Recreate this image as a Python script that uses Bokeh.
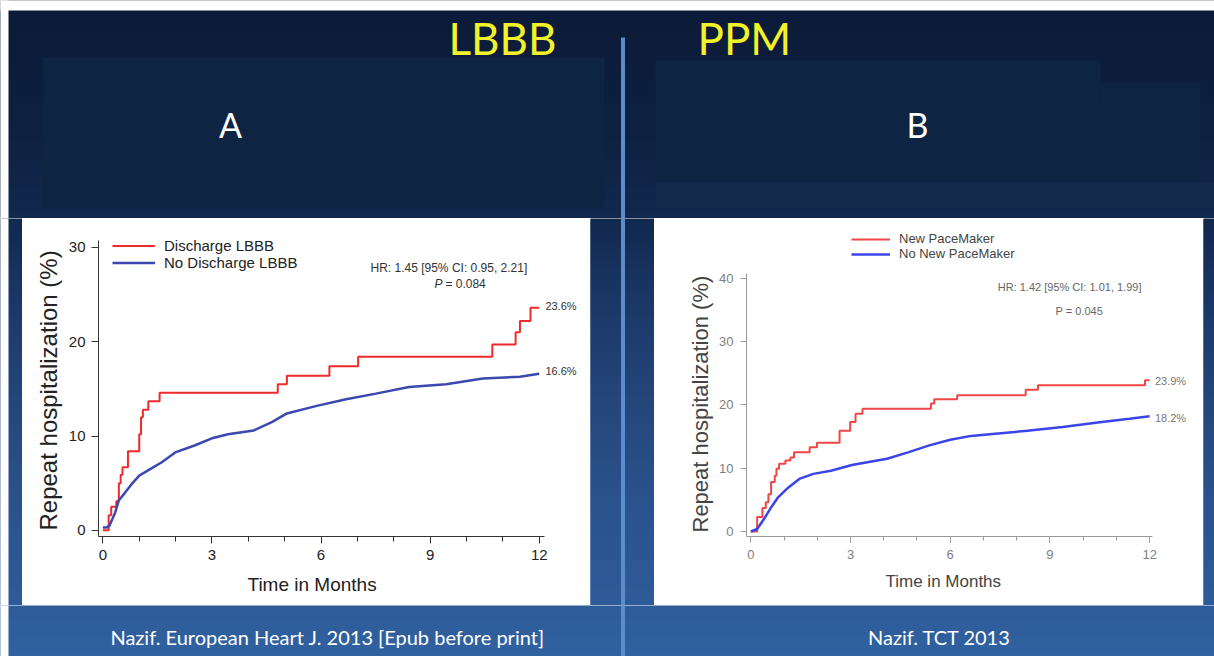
from bokeh.plotting import figure
from bokeh.models import Range1d, FixedTicker, Legend, LegendItem, Label, Title
from bokeh.layouts import row, column
from bokeh.embed import file_html
from bokeh.resources import INLINE
from bokeh.core.properties import value

# ---------------- data ----------------
slide_titles = ["LBBB", "PPM"]
panel_letters = ["A", "B"]
sources = ["Nazif. European Heart J. 2013 [Epub before print]", "Nazif. TCT 2013"]
y_title = "Repeat hospitalization (%)"
x_title = "Time in Months"

x_ticks = [0, 3, 6, 9, 12]
x_minor_ticks = list(range(13))
y_ticks_a = [0, 10, 20, 30]
y_ticks_b = [0, 10, 20, 30, 40]

series_a = ["Discharge LBBB", "No Discharge LBBB"]
lbbb_t = [0, 0.16, 0.23, 0.37, 0.44, 0.49, 0.54, 0.69, 1.0, 1.05, 1.10, 1.25, 1.56,
          4.81, 5.06, 6.23, 7.02, 10.71, 11.35, 11.47, 11.76, 12.0]
lbbb_v = [0, 1.6, 2.5, 3.1, 5.0, 5.9, 6.7, 8.4, 10.2, 12.0, 12.8, 13.7, 14.6,
          15.5, 16.4, 17.4, 18.4, 19.7, 21.0, 22.2, 23.6, 23.6]
nolbbb_t = [0, 0.10, 0.18, 0.34, 0.44, 0.59, 0.79, 1.0, 1.30, 1.61, 2.01, 2.52, 3.03,
            3.44, 4.15, 4.66, 5.06, 5.88, 6.69, 7.51, 8.42, 9.44, 10.45, 11.47, 12.0]
nolbbb_v = [0.3, 0.3, 0.5, 1.9, 3.2, 3.9, 4.9, 5.8, 6.5, 7.2, 8.3, 9.0, 9.8,
            10.2, 10.6, 11.5, 12.4, 13.2, 13.9, 14.5, 15.2, 15.5, 16.1, 16.3, 16.6]
end_labels_a = ["23.6%", "16.6%"]
stats_a = ["HR: 1.45 [95% CI: 0.95, 2.21]", "P", "= 0.084"]

series_b = ["New PaceMaker", "No New PaceMaker"]
ppm_t = [0, 0.19, 0.35, 0.45, 0.53, 0.61, 0.72, 0.77, 0.85, 1.04, 1.19, 1.30, 1.77, 1.99,
         2.67, 2.99, 3.15, 3.36, 5.42, 5.52, 6.21, 8.27, 8.64, 11.86, 12.0]
ppm_v = [0, 2.3, 3.7, 4.6, 5.9, 7.8, 8.8, 9.9, 10.7, 11.2, 11.7, 12.5, 13.3, 14.0,
         15.9, 17.3, 18.6, 19.4, 20.2, 20.9, 21.5, 22.4, 23.1, 23.9, 23.9]
noppm_t = [0, 0.19, 0.40, 0.61, 0.82, 1.14, 1.46, 1.88, 2.41, 3.04, 3.46, 4.10, 4.73,
           5.37, 6.0, 6.63, 7.27, 8.32, 9.38, 10.44, 11.39, 12.0]
noppm_v = [0, 0.4, 2.0, 3.8, 5.4, 7.0, 8.3, 9.1, 9.6, 10.5, 10.9, 11.5, 12.5,
           13.6, 14.5, 15.1, 15.4, 15.9, 16.5, 17.2, 17.8, 18.2]
end_labels_b = ["23.9%", "18.2%"]
stats_b = ["HR: 1.42 [95% CI: 1.01, 1.99]", "P = 0.045"]

# ---------------- styling helpers ----------------
grad_stops = [(0, "#0b1a36"), (150, "#0e2244"), (220, "#12294e"), (300, "#1b3767"),
              (400, "#24467b"), (500, "#2a528c"), (600, "#2e5b97"), (660, "#3162a1")]


def _rgb(h):
    h = h.lstrip("#")
    return [int(h[i:i + 2], 16) for i in (0, 2, 4)]


def grad(y):
    for (ya, ca), (yb, cb) in zip(grad_stops, grad_stops[1:]):
        if ya <= y <= yb:
            t = (y - ya) / (yb - ya)
            a, b = _rgb(ca), _rgb(cb)
            return "#%02x%02x%02x" % tuple(round(a[i] + (b[i] - a[i]) * t) for i in range(3))
    return grad_stops[-1][1]


def deco(x0, x1, y0, y1):
    p = figure(width=x1 - x0, height=y1 - y0, x_range=Range1d(x0, x1), y_range=Range1d(y1, y0),
               output_backend="svg", toolbar_location=None, x_axis_location=None,
               y_axis_location=None, min_border=0, title=None, frame_align=False)
    p.xgrid.visible = False
    p.ygrid.visible = False
    p.outline_line_color = None
    p.background_fill_color = None
    p.border_fill_color = None
    ys = list(range(y0, y1, 2))
    p.quad(left=x0 - 2, right=x1 + 2, top=[y - 1 for y in ys], bottom=[y + 3 for y in ys],
           fill_color=[grad(y + 1) for y in ys], line_color=None)
    if x0 < 8:
        p.quad(left=x0 - 2, right=8, top=y0 - 2, bottom=y1 + 2, fill_color="white", line_color=None)
    if y0 < 10:
        p.quad(left=x0 - 2, right=x1 + 2, top=y0 - 2, bottom=10, fill_color="white", line_color=None)
    return p


DIV_COL = "#5b8dca"
FONT = "Liberation Sans"
W = 1214

# ---------------- header ----------------
hdr = deco(0, W, 0, 218)
hdr.quad(left=[42, 655, 1100], right=[604, 1100, 1200], top=[57, 60, 82], bottom=[208, 182, 182],
         fill_color="#0d2443", line_color=None)
hdr.quad(left=655, right=W + 2, top=182, bottom=207, fill_color="#12294c", line_color=None)
hdr.quad(left=620.5, right=624.5, top=37, bottom=220, fill_color=DIV_COL, line_color=None)
hdr.text(x=[448, 697], y=[37, 37], text=slide_titles, text_font=value("Lato"),
         text_font_size="44px", text_color="#f2f22a", text_baseline="middle")
hdr.text(x=[230, 917], y=[124, 124], text=panel_letters, text_font=value("Lato"),
         text_font_size="34px", text_color="white", text_baseline="middle", text_align="center")

# ---------------- middle strips ----------------
left_strip = deco(0, 22, 218, 605)
gap = deco(590, 654, 218, 605)
gap.quad(left=620.5, right=624.5, top=216, bottom=607, fill_color=DIV_COL, line_color=None)
right_strip = deco(1203, W, 218, 605)


def km_fig(width, borders, xr, yr, xb, yb, yticks, axis_col, tick_col, tick_font, lab_col,
           ylab_font, xlab_font, tick_out, tick_std, ylab_off, xlab_off, ylab_std, xlab_std):
    l, r, t, b = borders
    p = figure(width=width, height=387, x_range=Range1d(*xr), y_range=Range1d(*yr),
               output_backend="svg", toolbar_location=None, title=None, frame_align=False,
               min_border_left=l, min_border_right=r, min_border_top=t, min_border_bottom=b)
    p.xgrid.visible = False
    p.ygrid.visible = False
    p.outline_line_color = None
    p.background_fill_color = "white"
    p.border_fill_color = "white"
    p.xaxis.ticker = FixedTicker(ticks=x_ticks, minor_ticks=x_minor_ticks)
    p.yaxis.ticker = FixedTicker(ticks=yticks, minor_ticks=[])
    p.xaxis.bounds = xb
    p.yaxis.bounds = yb
    for ax in (p.xaxis, p.yaxis):
        ax.axis_line_color = axis_col
        ax.major_tick_line_color = axis_col
        ax.minor_tick_line_color = axis_col
        ax.major_tick_in = 0
        ax.major_tick_out = tick_out
        ax.minor_tick_in = 0
        ax.minor_tick_out = tick_out - 2
        ax.major_label_text_font = FONT
        ax.major_label_text_font_size = tick_font
        ax.major_label_text_color = tick_col
        ax.major_label_standoff = tick_std
    p.add_layout(Title(text=y_title, align="left", offset=ylab_off, standoff=ylab_std,
                       text_font=FONT, text_font_size=ylab_font, text_font_style="normal",
                       text_color=lab_col), "left")
    p.add_layout(Title(text=x_title, align="left", offset=xlab_off, standoff=xlab_std,
                       text_font=FONT, text_font_size=xlab_font, text_font_style="normal",
                       text_color=lab_col), "below")
    return p


# ---------------- chart A ----------------
pa = km_fig(568, (76, 4, 4, 69), (-0.12, 13.3), (-0.65, 32.65), (-0.12, 12.15), (-0.65, 30.75),
            y_ticks_a, "#333333", "#222222", "15px", "#222222", "24px", "19px", 7, 6,
            6, 149, 8, 18)
ra = pa.step(lbbb_t, lbbb_v, mode="after", line_color="#ee2a2a", line_width=2)
ba = pa.line(nolbbb_t, nolbbb_v, line_color="#3a48b0", line_width=2.5)
leg_a = Legend(items=[LegendItem(label=series_a[0], renderers=[ra]),
                      LegendItem(label=series_a[1], renderers=[ba])],
               location=(14, 265), orientation="vertical", glyph_width=43, glyph_height=15,
               label_height=15, label_standoff=9, spacing=0, padding=0, margin=0,
               border_line_color=None, background_fill_alpha=0,
               label_text_font=FONT, label_text_font_size="15px", label_text_color="#222222")
pa.add_layout(leg_a)
pa.add_layout(Label(x=7.36, y=27.8, text=stats_a[0], text_font=FONT, text_font_size="12px",
                    text_color="#333333", text_baseline="middle"))
pa.add_layout(Label(x=9.12, y=26.1, text=stats_a[1], text_font=FONT, text_font_size="12px",
                    text_font_style="italic", text_color="#333333", text_baseline="middle"))
pa.add_layout(Label(x=9.42, y=26.1, text=stats_a[2], text_font=FONT, text_font_size="12px",
                    text_color="#333333", text_baseline="middle"))
pa.add_layout(Label(x=12.17, y=lbbb_v[-1] + 0.2, text=end_labels_a[0], text_font=FONT,
                    text_font_size="11px", text_color="#333333", text_baseline="middle"))
pa.add_layout(Label(x=12.17, y=nolbbb_v[-1] + 0.3, text=end_labels_a[1], text_font=FONT,
                    text_font_size="11px", text_color="#333333", text_baseline="middle"))

# ---------------- chart B ----------------
pb = km_fig(549, (92, 4, 4, 69), (-0.13, 13.5), (-0.79, 48.8), (-0.13, 12.1), (-0.79, 40.76),
            y_ticks_b, "#9a9a9a", "#808080", "13px", "#444444", "22px", "17px", 6, 7,
            4, 139, 8, 16)
rb = pb.step(ppm_t, ppm_v, mode="after", line_color="#f04646", line_width=2)
bb = pb.line(noppm_t, noppm_v, line_color="#3b44e8", line_width=2.5)
leg_b = Legend(items=[LegendItem(label=series_b[0], renderers=[rb]),
                      LegendItem(label=series_b[1], renderers=[bb])],
               location=(105, 275), orientation="vertical", glyph_width=39, glyph_height=14,
               label_height=14, label_standoff=9, spacing=0, padding=0, margin=0,
               border_line_color=None, background_fill_alpha=0,
               label_text_font=FONT, label_text_font_size="13px", label_text_color="#444444")
pb.add_layout(leg_b)
pb.add_layout(Label(x=7.43, y=38.55, text=stats_b[0], text_font=FONT, text_font_size="11px",
                    text_color="#666666", text_baseline="middle"))
pb.add_layout(Label(x=9.17, y=34.8, text=stats_b[1], text_font=FONT, text_font_size="11px",
                    text_color="#666666", text_baseline="middle"))
pb.add_layout(Label(x=12.16, y=ppm_v[-1] - 0.2, text=end_labels_b[0], text_font=FONT,
                    text_font_size="11px", text_color="#777777", text_baseline="middle"))
pb.add_layout(Label(x=12.16, y=noppm_v[-1] - 0.2, text=end_labels_b[1], text_font=FONT,
                    text_font_size="11px", text_color="#777777", text_baseline="middle"))

# ---------------- footer ----------------
ftr = deco(0, W, 605, 656)
ftr.quad(left=620.5, right=624.5, top=603, bottom=658, fill_color=DIV_COL, line_color=None)
ftr.text(x=[327, 939], y=[636, 636], text=sources, text_font=value("Lato"),
         text_font_size="20px", text_color="white", text_baseline="middle", text_align="center")

layout = column(hdr, row(left_strip, pa, gap, pb, right_strip, spacing=0), ftr, spacing=0)

open("out.html", "w").write(file_html(layout, INLINE, "LBBB PPM"))
